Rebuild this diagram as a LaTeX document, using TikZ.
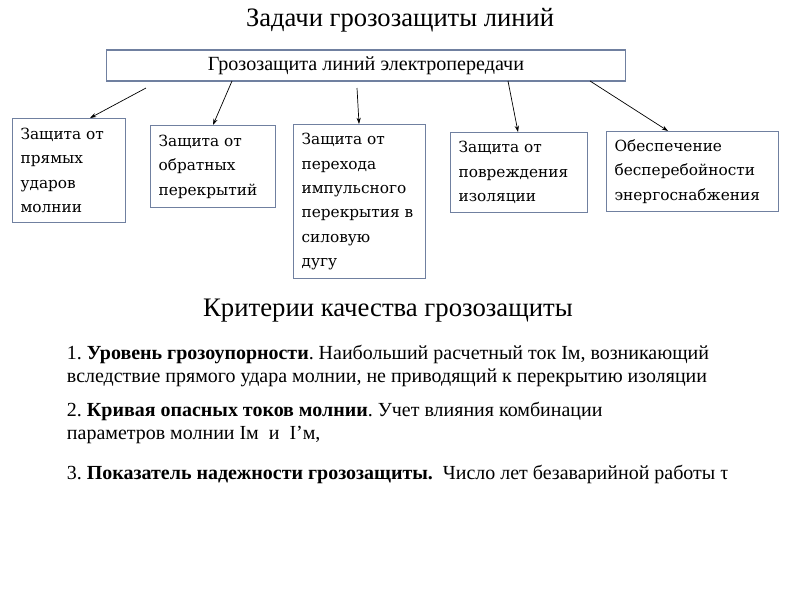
\documentclass[tikz,border=0pt]{standalone}
\usepackage{fontspec}
\setmainfont{Liberation Serif}
\newfontfamily\boxfont{DejaVu Serif}
\usetikzlibrary{arrows.meta,positioning}
\definecolor{slateframe}{RGB}{112,128,160}
\frenchspacing

\begin{document}
\begin{tikzpicture}[x=0.025cm, y=-0.025cm,
  task/.style={draw=slateframe, line width=0.8pt, anchor=north west, inner xsep=0.2cm, inner ysep=0pt, align=flush left, font=\boxfont\fontsize{10.9}{17.3}\selectfont},
  feed/.style={-{Stealth[length=4.5pt,width=3pt]}, line width=0.5pt},
  crit/.style={anchor=west, align=left, font=\fontsize{14.2}{17}\selectfont}]
  \useasboundingbox (0,0) rectangle (800,600);
  % tasks
  \node[font=\fontsize{18.9}{21}\selectfont] (title) at (400,20) {Задачи грозозащиты линий};
  \node[draw=slateframe, line width=0.8pt, minimum width=12.95cm, minimum height=0.775cm, font=\fontsize{14.3}{16}\selectfont] (main) at (366,65.5) {Грозозащита линий электропередачи};
  \foreach \n/\x/\y/\t/\h/\txt in {1/12/118/2.425/2.6/{Защита от\\прямых\\ударов\\молнии},
      2/150/125/2.725/2.05/{Защита от\\обратных\\перекрытий},
      3/293/124/2.9/3.85/{Защита от\\перехода\\импульсного\\перекрытия в\\силовую\\дугу},
      4/450/132/3.025/2.0/{Защита от\\повреждения\\изоляции},
      5/606/131/3.9/2.0/{Обеспечение\\бесперебойности\\энергоснабжения}} {
    \node[task, text width=\t cm, minimum height=\h cm] (b\n) at (\x,\y) {\txt};
  }
  \foreach \n/\sx/\sy/\ex in {1/146/88/1.95, 2/232/81/1.575, 3/357/88/1.65, 4/508/81/1.7, 5/590/81/1.55} {
    \coordinate (s\n) at (\sx,\sy);
    \draw[feed] (s\n) -- ([xshift=\ex cm]b\n.north west);
  }
  % criteria
  \node[font=\fontsize{19}{21}\selectfont] (crithead) at (388,311) {Критерии качества грозозащиты};
  \node[crit] (c1) at (62,366) {1. \textbf{Уровень грозоупорности}. Наибольший расчетный ток Iм, возникающий\\вследствие прямого удара молнии, не приводящий к перекрытию изоляции};
  \node[crit] (c2) at (62,423) {2. \textbf{Кривая опасных токов молнии}. Учет влияния комбинации\\параметров молнии Iм~ и~ I'м,};
  \node[crit] (c3) at (62,474) {3. \textbf{Показатель надежности грозозащиты.}~ Число лет безаварийной работы τ};
\end{tikzpicture}
\end{document}
